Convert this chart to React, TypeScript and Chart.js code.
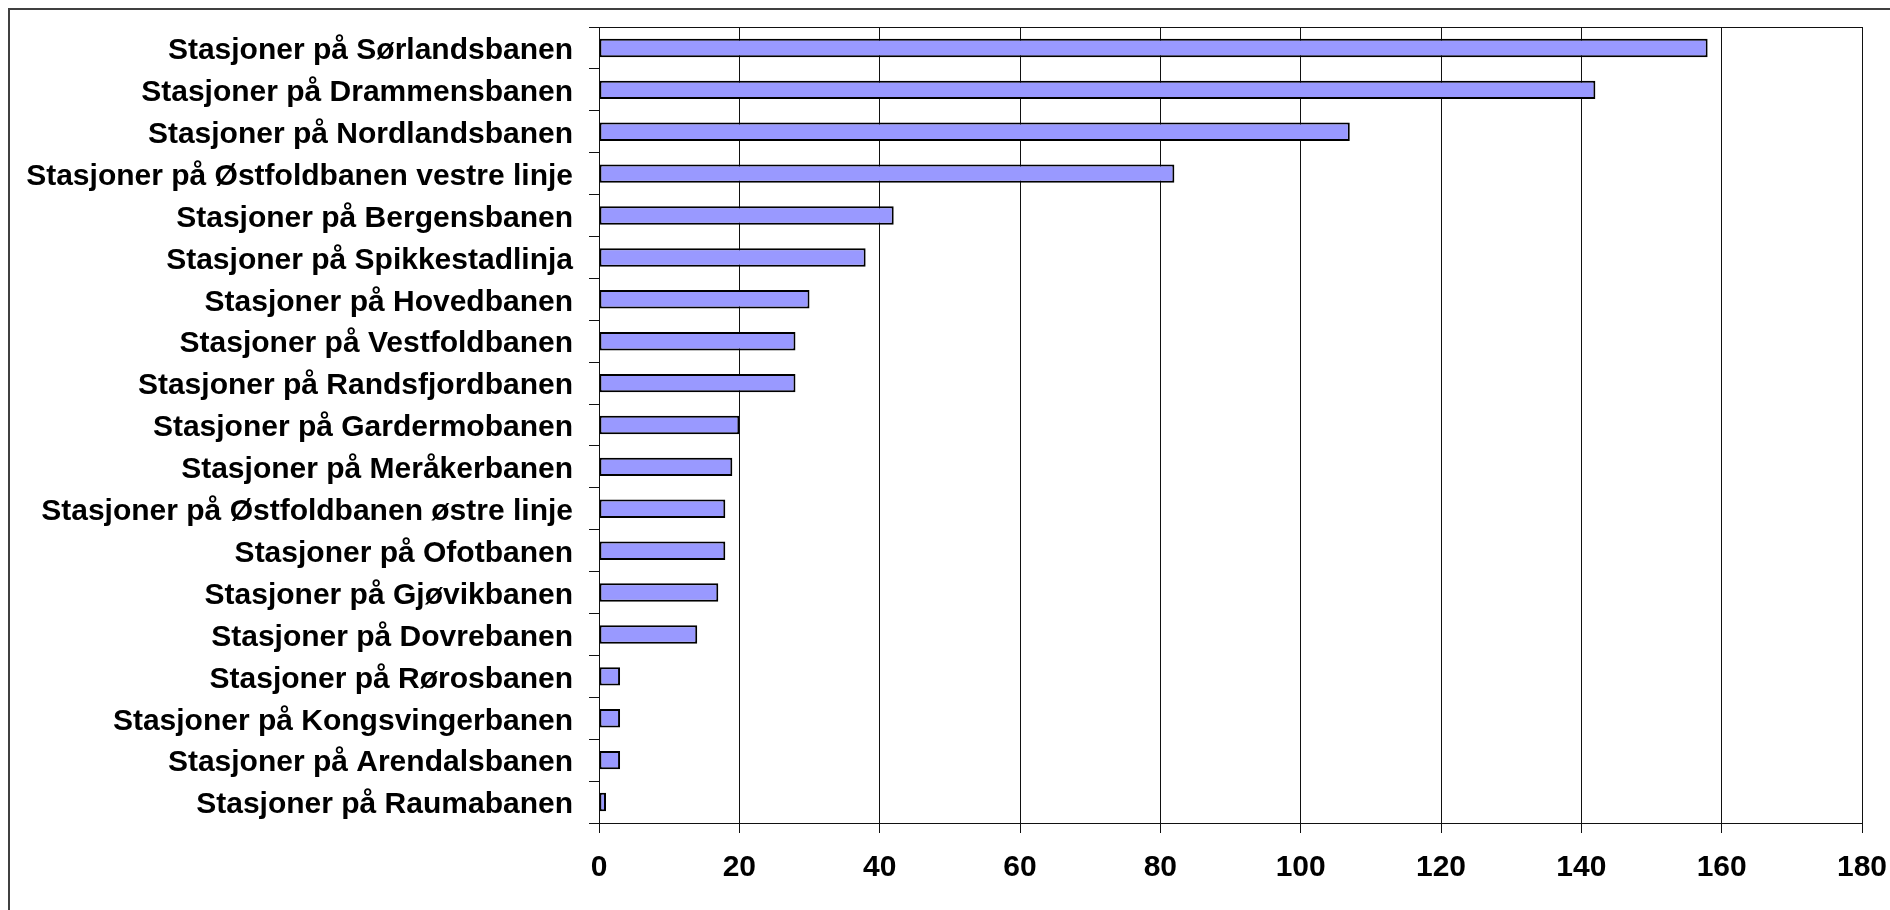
import React, { useEffect, useRef } from "react";
import { Chart, registerables } from "chart.js";

Chart.register(...registerables);

const categories: string[] = [
  "Stasjoner på Sørlandsbanen",
  "Stasjoner på Drammensbanen",
  "Stasjoner på Nordlandsbanen",
  "Stasjoner på Østfoldbanen vestre linje",
  "Stasjoner på Bergensbanen",
  "Stasjoner på Spikkestadlinja",
  "Stasjoner på Hovedbanen",
  "Stasjoner på Vestfoldbanen",
  "Stasjoner på Randsfjordbanen",
  "Stasjoner på Gardermobanen",
  "Stasjoner på Meråkerbanen",
  "Stasjoner på Østfoldbanen østre linje",
  "Stasjoner på Ofotbanen",
  "Stasjoner på Gjøvikbanen",
  "Stasjoner på Dovrebanen",
  "Stasjoner på Rørosbanen",
  "Stasjoner på Kongsvingerbanen",
  "Stasjoner på Arendalsbanen",
  "Stasjoner på Raumabanen",
];

const stationCounts: number[] = [
  158, 142, 107, 82, 42, 38, 30, 28, 28, 20, 19, 18, 18, 17, 14, 3, 3, 3, 1,
];

const xTickValues: number[] = [0, 20, 40, 60, 80, 100, 120, 140, 160, 180];

const FONT_FAMILY = "'Liberation Sans', Arial, Helvetica, sans-serif";

const plotBorder = {
  id: "plotBorder",
  afterDraw(chart: any) {
    const { ctx, chartArea } = chart;
    const { left, top, right, bottom } = chartArea;
    ctx.save();
    ctx.strokeStyle = "#111";
    ctx.lineWidth = 1;
    ctx.strokeRect(Math.round(left) + 0.5, Math.round(top) + 0.5, Math.round(right - left), Math.round(bottom - top));
    ctx.restore();
  },
};

export default function App() {
  const canvasRef = useRef<HTMLCanvasElement | null>(null);

  useEffect(() => {
    if (!canvasRef.current) return;
    const chart = new Chart(canvasRef.current, {
      type: "bar",
      data: {
        labels: categories,
        datasets: [
          {
            data: stationCounts,
            backgroundColor: "#9999FF",
            borderColor: "#000000",
            borderWidth: 2,
            borderSkipped: false,
            categoryPercentage: 1,
            barPercentage: 0.44,
          },
        ],
      },
      options: {
        indexAxis: "y",
        responsive: false,
        animation: false,
        devicePixelRatio: 1,
        layout: { padding: { top: 17, right: 28, bottom: 0, left: 0 } },
        plugins: {
          legend: { display: false },
          tooltip: { enabled: false },
          title: { display: false },
        },
        scales: {
          x: {
            type: "linear",
            position: "bottom",
            min: xTickValues[0],
            max: xTickValues[xTickValues.length - 1],
            afterBuildTicks: (scale: any) => {
              scale.ticks = xTickValues.map((v) => ({ value: v }));
            },
            afterFit: (scale: any) => {
              scale.height = 77;
              scale.paddingLeft = 0;
              scale.paddingRight = 0;
            },
            grid: {
              color: "#111",
              lineWidth: 1,
              drawOnChartArea: true,
              drawTicks: true,
              tickLength: 10,
            },
            border: { display: true, color: "#000", width: 1 },
            ticks: {
              color: "#000",
              padding: 17,
              maxRotation: 0,
              font: { family: FONT_FAMILY, size: 30, weight: "bold" },
            },
          },
          y: {
            type: "category",
            position: "left",
            offset: true,
            afterFit: (scale: any) => {
              scale.width = 589;
              scale.paddingTop = 0;
              scale.paddingBottom = 0;
            },
            grid: {
              offset: true,
              color: "#111",
              lineWidth: 1,
              drawOnChartArea: false,
              drawTicks: true,
              tickLength: 10,
            },
            border: { display: true, color: "#000", width: 1 },
            ticks: {
              color: "#000",
              padding: 16,
              labelOffset: 3,
              autoSkip: false,
              font: { family: FONT_FAMILY, size: 30, weight: "bold" },
            },
          },
        },
      },
      plugins: [plotBorder],
    } as any);
    return () => chart.destroy();
  }, []);

  return (
    <div
      style={{
        position: "fixed",
        left: 8,
        top: 8,
        width: 1882,
        height: 902,
        overflow: "hidden",
      }}
    >
      <div
        style={{
          width: 1900,
          height: 920,
          border: "2px solid #404040",
          boxSizing: "border-box",
          background: "#fff",
        }}
      >
        <canvas
          ref={canvasRef}
          width={1880}
          height={890}
          style={{ display: "block", width: 1880, height: 890 }}
        />
      </div>
    </div>
  );
}
